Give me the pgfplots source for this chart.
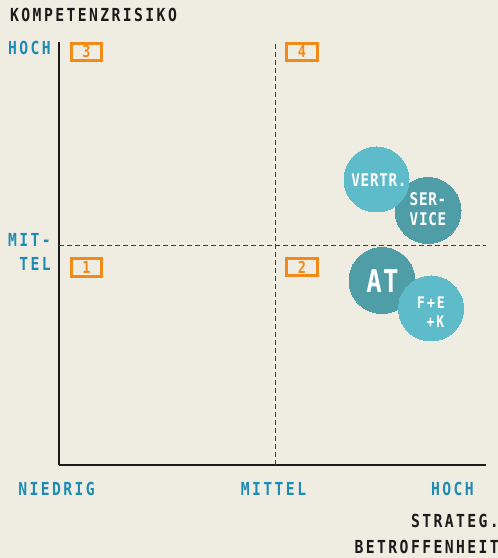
\documentclass[border=0pt]{standalone}
\usepackage{fontspec}
\setmainfont{DejaVu Sans Mono}
\newfontfamily\outerfont{DejaVu Sans Mono}[FakeStretch=0.82,LetterSpace=13.5]
\newfontfamily\bubfont{DejaVu Sans Mono}[FakeStretch=0.82,LetterSpace=4]
\usepackage{pgfplots}
\pgfplotsset{compat=1.18}
\definecolor{bg}{HTML}{EFECE2}
\definecolor{labblue}{HTML}{1E8BB5}
\definecolor{boxorange}{HTML}{F28A1A}
\definecolor{teallight}{HTML}{5EBBCA}
\definecolor{tealdark}{HTML}{4F9EA7}
\definecolor{ink}{HTML}{1B1B1B}
\begin{document}
\begin{tikzpicture}
\fill[bg] (0,0) rectangle (498bp,558bp);
\begin{axis}[
  at={(59bp,93bp)}, anchor=origin,
  x=1bp, y=1bp,
  xmin=0, xmax=427, ymin=0, ymax=423,
  axis lines=left,
  axis line style={-, line width=2bp, ink},
  xtick=\empty, ytick=\empty,
  clip=false,
  every node near coord/.append style={anchor=center},
]
% dashed middle lines
\addplot[dash pattern=on 4.5bp off 3.5bp, line width=1bp, ink!85] coordinates {(216,0) (216,423)};
\addplot[dash pattern=on 4.5bp off 3.5bp, line width=1bp, ink!85] coordinates {(0,219) (427,219)};
% quadrant boxes
\addplot[only marks, mark=none, nodes near coords, point meta=explicit symbolic,
  every node near coord/.append style={anchor=center, draw=boxorange, line width=2.6bp,
    minimum width=30.5bp, minimum height=17.5bp, inner sep=0pt, text=boxorange,
    font=\outerfont\bfseries\fontsize{16.5}{16.5}\selectfont}]
  coordinates {(27.5,197.5) [1] (243,198) [2] (27.5,413) [3] (243,413) [4]};
% bubbles (dark first, light on top)
\addplot[only marks, color=tealdark, mark=*, mark size=33bp, mark options={draw=tealdark, fill=tealdark, line width=0pt}]
  coordinates {(369,254.5) (323,184.5)};
\addplot[only marks, color=teallight, mark=*, mark size=32.5bp, mark options={draw=teallight, fill=teallight, line width=0pt}]
  coordinates {(317.5,285.5) (372,156.5)};
% bubble labels
\addplot[only marks, mark=none, nodes near coords, point meta=explicit symbolic,
  every node near coord/.append style={anchor=center, align=center, inner sep=0pt, text=white,
    font=\bubfont\bfseries\fontsize{17.5}{20}\selectfont}]
  coordinates {(320,285) [VERTR.] (369,255.5) [{SER-\\VICE}]};
\addplot[only marks, mark=none, nodes near coords, point meta=explicit symbolic,
  every node near coord/.append style={anchor=center, align=center, inner sep=0pt, text=white,
    font=\bubfont\bfseries\fontsize{16}{18.5}\selectfont}]
  coordinates {(372,153) [{F\kern2bp+\kern2bpE\\\kern9bp+\kern2bpK}]};
\addplot[only marks, mark=none, nodes near coords, point meta=explicit symbolic,
  every node near coord/.append style={anchor=center, inner sep=0pt, text=white,
    font=\bubfont\bfseries\fontsize{31.5}{32}\selectfont}]
  coordinates {(323.5,183.5) [AT]};
\end{axis}
\begin{scope}[every node/.style={inner sep=0pt, font=\outerfont\bfseries\fontsize{18}{18}\selectfont}]
\node[anchor=base west, text=ink] at (10bp,536bp) {KOMPETENZRISIKO};
\node[anchor=base east, text=labblue] at (51bp,503bp) {HOCH};
\node[anchor=base east, text=labblue] at (51bp,311bp) {MIT-};
\node[anchor=base east, text=labblue] at (51bp,287bp) {TEL};
\node[anchor=base, text=labblue] at (56.5bp,62bp) {NIEDRIG};
\node[anchor=base, text=labblue] at (273.5bp,62bp) {MITTEL};
\node[anchor=base, text=labblue] at (452.5bp,62bp) {HOCH};
\node[anchor=base east, text=ink] at (499bp,31bp) {STRATEG.};
\node[anchor=base east, text=ink] at (499bp,5bp) {BETROFFENHEIT};
\end{scope}
\pgfresetboundingbox
\path[use as bounding box] (0,0) rectangle (498bp,558bp);
\end{tikzpicture}
\end{document}
